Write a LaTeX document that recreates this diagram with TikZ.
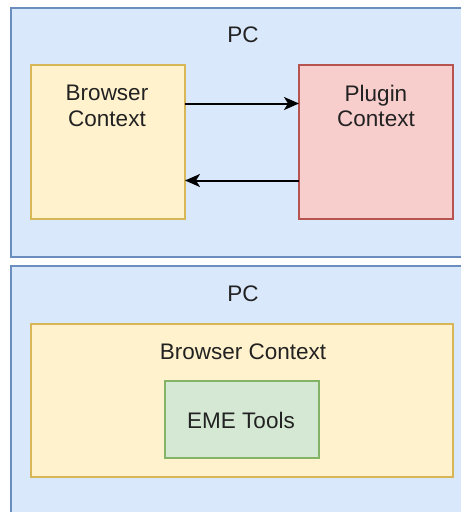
\documentclass[tikz,border=0pt]{standalone}
\usepackage{fontspec}
\setmainfont{Liberation Sans}
\usetikzlibrary{arrows.meta,calc}

\definecolor{pcfill}{HTML}{DAE8FC}
\definecolor{pcline}{HTML}{6C8EBF}
\definecolor{brfill}{HTML}{FFF2CC}
\definecolor{brline}{HTML}{D6B656}
\definecolor{plfill}{HTML}{F8CECC}
\definecolor{plline}{HTML}{B85450}
\definecolor{emfill}{HTML}{D5E8D4}
\definecolor{emline}{HTML}{82B366}
\definecolor{txt}{HTML}{222222}

\tikzset{
  box/.style={rectangle, draw, line width=1.3pt, inner sep=0pt, outer sep=0pt},
  pcbox/.style={box, fill=pcfill, draw=pcline},
  brbox/.style={box, fill=brfill, draw=brline},
  plbox/.style={box, fill=plfill, draw=plline},
  embox/.style={box, fill=emfill, draw=emline},
  lbl/.style={text=txt, font=\fontsize{22.5}{25.5}\selectfont, align=center, inner sep=0pt},
  arr/.style={line width=2pt, -{Stealth[length=15pt, width=13pt, inset=4pt]}}
}

\begin{document}
\begin{tikzpicture}[x=1pt, y=-1pt]
  \useasboundingbox (0,0) rectangle (461,512);
  \clip (0,0) rectangle (461,512);
  \fill[white] (0,0) rectangle (461,512);

  % upper PC: two separate contexts talking to each other
  \node[pcbox, minimum width=470pt, minimum height=249pt, anchor=north west] (pc1) at (11,8) {};
  \node[lbl] (pc1t) at (243,35) {PC};
  \node[brbox, minimum width=154pt, minimum height=154pt] (bc1) at (108,142) {};
  \node[lbl] (bc1t) at (107,106) {Browser\\Context};
  \node[plbox, minimum width=154pt, minimum height=154pt] (pl) at (376,142) {};
  \node[lbl] (plt) at (376,106) {Plugin\\Context};

  \draw[arr] ($(bc1.north east)!0.25!(bc1.south east)$) -- ($(pl.north west)!0.25!(pl.south west)$);
  \draw[arr] ($(pl.north west)!0.75!(pl.south west)$) -- ($(bc1.north east)!0.75!(bc1.south east)$);

  % lower PC: tools embedded in the browser context
  \node[pcbox, minimum width=470pt, minimum height=260pt, anchor=north west] (pc2) at (11,266) {};
  \node[lbl] (pc2t) at (243,294) {PC};
  \node[brbox, minimum width=422pt, minimum height=153pt, anchor=north west] (bc2) at (31,324) {};
  \node[lbl] (bc2t) at (243,352) {Browser Context};
  \node[embox, minimum width=154pt, minimum height=77pt] (eme) at (242,419.5) {};
  \node[lbl] (emet) at (241,420.5) {EME Tools};
\end{tikzpicture}
\end{document}
